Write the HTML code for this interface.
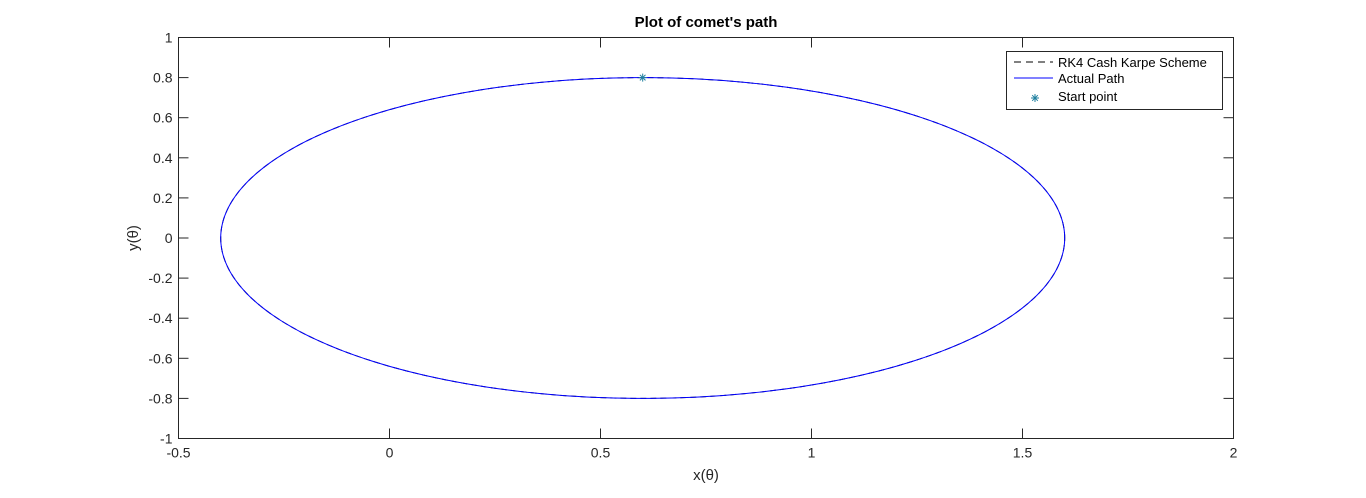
<!DOCTYPE html>
<html><head><meta charset="utf-8"><style>
html,body{margin:0;padding:0;background:#fff;}
svg text{font-family:"Liberation Sans",Arial,sans-serif;}
</style></head><body>
<svg id="chart" width="1366" height="493" viewBox="0 0 1366 493" xmlns="http://www.w3.org/2000/svg">
<rect width="1366" height="493" fill="#fff"/>
<g id="axes"></g>
<g id="series"></g>
<g id="legend"></g>
</svg>
<script>
const xTicks=[-0.5,0,0.5,1,1.5,2];
const xTickLabels=["-0.5","0","0.5","1","1.5","2"];
const yTicks=[1,0.8,0.6,0.4,0.2,0,-0.2,-0.4,-0.6,-0.8,-1];
const yTickLabels=["1","0.8","0.6","0.4","0.2","0","-0.2","-0.4","-0.6","-0.8","-1"];
const ellipseCenter=[0.6,0];
const ellipseAxes=[1.0,0.8];
const startPoint=[0.6,0.8];

const L=178.5,R=1233.5,T=37.5,B=438.5;
const xMin=-0.5,xMax=2,yMin=-1,yMax=1;
const sx=v=>L+(v-xMin)/(xMax-xMin)*(R-L);
const sy=v=>B-(v-yMin)/(yMax-yMin)*(B-T);
const NS="http://www.w3.org/2000/svg";
function mk(tag,attrs,parent,text){const e=document.createElementNS(NS,tag);for(const k in attrs)e.setAttribute(k,attrs[k]);if(text!==undefined)e.textContent=text;parent.appendChild(e);return e;}
const ax=document.getElementById('axes');
const box=mk('rect',{x:L,y:T,width:R-L,height:B-T,fill:'none',stroke:'#262626','stroke-width':1},ax);


xTicks.forEach((v,i)=>{
  const x=sx(v);
  const t1=mk('line',{x1:x,y1:B,x2:x,y2:B-10,stroke:'#262626'},ax);
  
  
  const t2=mk('line',{x1:x,y1:T,x2:x,y2:T+10,stroke:'#262626'},ax);
  
  
  const lb=mk('text',{x:x,y:B+19,'text-anchor':'middle','font-size':14,fill:'#262626'},ax,xTickLabels[i]);
  
  
});
yTicks.forEach((v,i)=>{
  const y=sy(v);
  const t1=mk('line',{x1:L,y1:y,x2:L+10,y2:y,stroke:'#262626'},ax);
  
  
  const t2=mk('line',{x1:R,y1:y,x2:R-10,y2:y,stroke:'#262626'},ax);
  
  
  const lb=mk('text',{x:L-6,y:y+5,'text-anchor':'end','font-size':14,fill:'#262626'},ax,yTickLabels[i]);
  
  
});
const title=mk('text',{x:(L+R)/2,y:27,'text-anchor':'middle','font-size':15,'font-weight':'bold',fill:'#000'},ax,"Plot of comet's path");


const xt=mk('text',{x:(L+R)/2,y:480,'text-anchor':'middle','font-size':15,fill:'#262626'},ax,"x(θ)");


const yt=mk('text',{x:0,y:0,'text-anchor':'middle','font-size':15,fill:'#262626',transform:`translate(138,${(T+B)/2}) rotate(-90)`},ax,"y(θ)");



const sg=document.getElementById('series');
let d='';
for(let k=0;k<=360;k++){const a=k*Math.PI/180;const px=sx(ellipseCenter[0]+ellipseAxes[0]*Math.cos(a));const py=sy(ellipseCenter[1]+ellipseAxes[1]*Math.sin(a));d+=(k?'L':'M')+px.toFixed(2)+' '+py.toFixed(2);}
const rk=mk('path',{d:d,fill:'none',stroke:'#000','stroke-width':1,'stroke-dasharray':'6 4'},sg);


const ap=mk('path',{d:d,fill:'none',stroke:'#0000ff','stroke-width':1},sg);


function star(g,cx,cy,r){
  const s=mk('g',{stroke:'#1f7f9f','stroke-width':1},g);
  mk('line',{x1:cx-r,y1:cy,x2:cx+r,y2:cy},s);
  mk('line',{x1:cx,y1:cy-r,x2:cx,y2:cy+r},s);
  mk('line',{x1:cx-r*0.7,y1:cy-r*0.7,x2:cx+r*0.7,y2:cy+r*0.7},s);
  mk('line',{x1:cx-r*0.7,y1:cy+r*0.7,x2:cx+r*0.7,y2:cy-r*0.7},s);
  return s;
}
const sp=star(sg,sx(startPoint[0]),sy(startPoint[1]),4);



const lg=document.getElementById('legend');
const lb=mk('rect',{x:1006.5,y:51.5,width:216,height:58,fill:'#fff',stroke:'#262626'},lg);


const e1=mk('line',{x1:1014,y1:62,x2:1053,y2:62,stroke:'#000','stroke-dasharray':'7 5'},lg);


const e2=mk('line',{x1:1014,y1:78,x2:1053,y2:78,stroke:'#0000ff'},lg);


const e3=star(lg,1035,98,4);


[["RK4 Cash Karpe Scheme",67],["Actual Path",83],["Start point",101]].forEach(([t,y])=>{
  const tx=mk('text',{x:1058,y:y,'font-size':13,fill:'#000'},lg,t);
  
  
});
</script>
</body></html>
